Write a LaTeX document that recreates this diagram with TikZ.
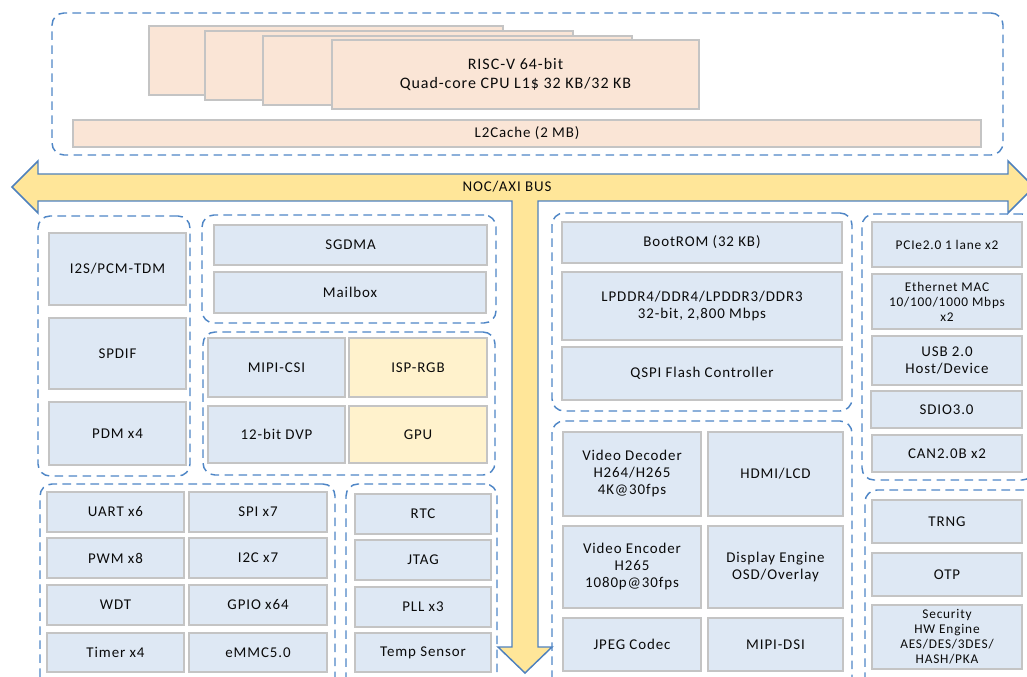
\documentclass[tikz,border=0pt]{standalone}
\usepackage{fontspec}
\setmainfont{Carlito}[LetterSpace=6]
\usetikzlibrary{shadows}
\definecolor{boxfill}{HTML}{DEE8F4}
\definecolor{boxline}{HTML}{C4C4C4}
\definecolor{cpufill}{HTML}{FAE5D6}
\definecolor{ylwfill}{HTML}{FFF2CC}
\definecolor{busfill}{HTML}{FFE699}
\definecolor{busline}{HTML}{4F81BD}
\definecolor{grpline}{HTML}{4F86C6}
\definecolor{txt}{HTML}{0A0A0A}
\tikzset{
  blkbox/.style={draw=boxline, line width=1.1pt, inner sep=0pt, outer sep=0pt,
    align=center, text=txt, font=\fontsize{11.2}{12.75}\selectfont,
    drop shadow={opacity=0.12, shadow xshift=0.8pt, shadow yshift=-0.8pt}},
  grpbox/.style={draw=grpline, line width=1.1pt, dash pattern=on 6.5pt off 4pt,
    rounded corners=9pt, inner sep=0pt, outer sep=0pt},
  smalltxt/.style={font=\fontsize{10}{11.25}\selectfont},
  cputxt/.style={font=\fontsize{12}{14.25}\selectfont},
  bus/.style={draw=busline, fill=busfill, line width=1.1pt, line join=miter},
}
\newcommand{\blk}[8][]{\node[blkbox, fill=#3, minimum width={(#6-#4)*0.75pt}, minimum height={(#7-#5)*0.75pt}, #1] (#2) at ({(#4+#6)/2},{(#5+#7)/2}) {#8};}
\newcommand{\grp}[5]{\node[grpbox, minimum width={(#4-#2)*0.75pt}, minimum height={(#5-#3)*0.75pt}] (#1) at ({(#2+#4)/2},{(#3+#5)/2}) {};}
\begin{document}
\begin{tikzpicture}[x=0.75pt, y=-0.75pt]
\useasboundingbox (0,0) rectangle (1027,677);
\clip (0,0) rectangle (1027,677);

% bus
\draw[bus] (12,187) -- (38,161) -- (38,174) -- (1008,174) -- (1008,161) -- (1034,187)
  -- (1008,213) -- (1008,201) -- (538,201) -- (538,647) -- (552,647) -- (525,673)
  -- (498,647) -- (512,647) -- (512,201) -- (38,201) -- (38,213) -- cycle;
\node[text=txt, font=\fontsize{11.2}{12.75}\selectfont] (buslbl) at (507,187) {NOC/AXI BUS};

% CPU group
\grp{gcpu}{52}{13}{1003}{155}
\blk[cputxt]{cpu1}{cpufill}{149}{26}{503}{95}{}
\blk[cputxt]{cpu2}{cpufill}{205}{31}{573}{100}{}
\blk[cputxt]{cpu3}{cpufill}{263}{36}{632}{105}{}
\blk[cputxt]{cpu4}{cpufill}{332}{40}{699}{109}{RISC-V 64-bit\\Quad-core CPU L1\$ 32 KB/32 KB}
\blk{l2}{cpufill}{73}{120}{981}{147}{L2Cache (2 MB)}

% group A
\grp{ga}{38}{216}{190}{476}
\blk{i2s}{boxfill}{49}{233}{186}{305}{I2S/PCM-TDM}
\blk{spdif}{boxfill}{49}{318}{186}{389}{SPDIF}
\blk{pdm}{boxfill}{49}{402}{186}{465}{PDM x4}

% group B
\grp{gb}{202}{215}{496}{323}
\blk{sgdma}{boxfill}{214}{225}{487}{265}{SGDMA}
\blk{mailbox}{boxfill}{214}{272}{486}{313}{Mailbox}

% group C
\grp{gc}{203}{332}{495}{475}
\blk{mipicsi}{boxfill}{208}{338}{345}{397}{MIPI-CSI}
\blk{isp}{ylwfill}{349}{338}{487}{397}{ISP-RGB}
\blk{dvp}{boxfill}{208}{406}{345}{463}{12-bit DVP}
\blk{gpu}{ylwfill}{349}{406}{487}{463}{GPU}

% group D
\grp{gd}{40}{484}{335}{700}
\blk{uart}{boxfill}{47}{492}{184}{532}{UART x6}
\blk{spi}{boxfill}{189}{492}{327}{532}{SPI x7}
\blk{pwm}{boxfill}{47}{538}{184}{578}{PWM x8}
\blk{i2c}{boxfill}{189}{538}{327}{578}{I2C x7}
\blk{wdt}{boxfill}{47}{585}{184}{625}{WDT}
\blk{gpio}{boxfill}{189}{585}{327}{625}{GPIO x64}
\blk{timer}{boxfill}{47}{633}{184}{672}{Timer x4}
\blk{emmc}{boxfill}{189}{633}{327}{672}{eMMC5.0}

% group E
\grp{ge}{346}{484}{497}{700}
\blk{rtc}{boxfill}{355}{494}{491}{534}{RTC}
\blk{jtag}{boxfill}{355}{540}{491}{580}{JTAG}
\blk{pll}{boxfill}{355}{587}{491}{627}{PLL x3}
\blk{temp}{boxfill}{355}{633}{491}{672}{Temp Sensor}

% group F
\grp{gf}{552}{213}{852}{411}
\blk{bootrom}{boxfill}{562}{222}{842}{263}{BootROM (32 KB)}
\blk{lpddr}{boxfill}{562}{272}{842}{340}{LPDDR4/DDR4/LPDDR3/DDR3\\32-bit, 2,800 Mbps}
\blk{qspi}{boxfill}{562}{347}{842}{400}{QSPI Flash Controller}

% group G
\grp{gg}{862}{214}{1034}{480}
\blk[smalltxt]{pcie}{boxfill}{872}{222}{1022}{267}{PCIe2.0 1 lane x2}
\blk[smalltxt]{eth}{boxfill}{872}{274}{1022}{329}{Ethernet MAC\\10/100/1000 Mbps\\x2}
\blk{usb}{boxfill}{872}{336}{1022}{385}{USB 2.0\\Host/Device}
\blk{sdio}{boxfill}{871}{391}{1022}{428}{SDIO3.0}
\blk{can}{boxfill}{872}{435}{1022}{472}{CAN2.0B x2}

% group H
\grp{gh}{552}{421}{852}{700}
\blk{vdec}{boxfill}{563}{432}{701}{516}{Video Decoder\\H264/H265\\4K@30fps}
\blk{hdmi}{boxfill}{708}{432}{843}{516}{HDMI/LCD}
\blk{venc}{boxfill}{563}{526}{701}{608}{Video Encoder\\H265\\1080p@30fps}
\blk{disp}{boxfill}{708}{526}{843}{608}{Display Engine\\OSD/Overlay}
\blk{jpeg}{boxfill}{563}{618}{701}{671}{JPEG Codec}
\blk{mipidsi}{boxfill}{708}{618}{843}{671}{MIPI-DSI}

% group I
\grp{gi}{865}{490}{1036}{700}
\blk{trng}{boxfill}{872}{500}{1022}{543}{TRNG}
\blk{otp}{boxfill}{872}{553}{1022}{596}{OTP}
\blk[smalltxt]{sec}{boxfill}{872}{605}{1022}{669}{Security\\HW Engine\\AES/DES/3DES/\\HASH/PKA}
\end{tikzpicture}
\end{document}
